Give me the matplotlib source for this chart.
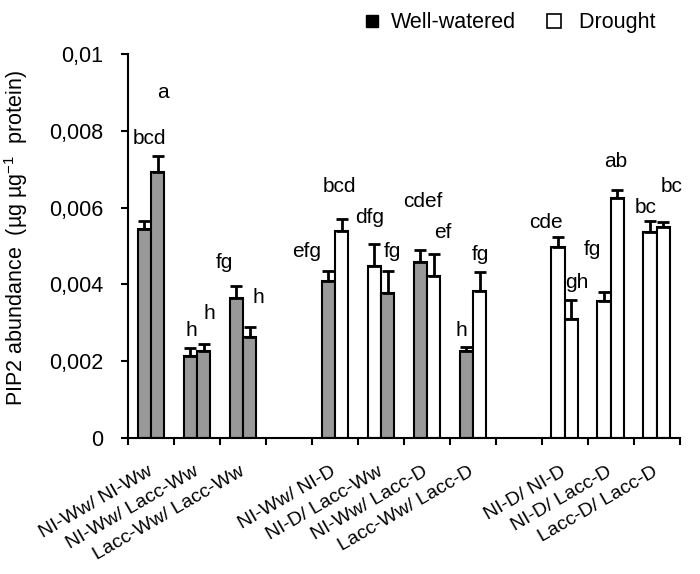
import matplotlib
matplotlib.use("Agg")
import matplotlib.pyplot as plt
import numpy as np
from matplotlib.lines import Line2D
from matplotlib.ticker import FuncFormatter

plt.rcParams['font.family'] = ['Liberation Sans', 'DejaVu Sans']

# graft combinations (empty strings = gaps between groups)
categories = ['NI-Ww/ NI-Ww', 'NI-Ww/ Lacc-Ww', 'Lacc-Ww/ Lacc-Ww', '',
              'NI-Ww/ NI-D', 'NI-D/ Lacc-Ww', 'NI-Ww/ Lacc-D', 'Lacc-Ww/ Lacc-D', '',
              'NI-D/ NI-D', 'NI-D/ Lacc-D', 'Lacc-D/ Lacc-D']

# first and second bar of each combination (None = no bar)
first_vals = [0.00544, 0.00214, 0.00364, None, 0.00409, 0.00448, 0.00458, 0.00227, None, 0.00496, 0.00357, 0.00536]
first_err = [0.00021, 0.00020, 0.00032, None, 0.00026, 0.00057, 0.00032, 0.00010, None, 0.00027, 0.00023, 0.00029]
second_vals = [0.00693, 0.00227, 0.00263, None, 0.00539, 0.00377, 0.00423, 0.00384, None, 0.00310, 0.00626, 0.00550]
second_err = [0.00041, 0.00018, 0.00026, None, 0.00031, 0.00058, 0.00056, 0.00049, None, 0.00050, 0.00020, 0.00013]

# treatment of each bar: 'W' well-watered, 'D' drought
first_trt = ['W', 'W', 'W', None, 'W', 'D', 'W', 'W', None, 'D', 'D', 'D']
second_trt = ['W', 'W', 'W', None, 'D', 'W', 'D', 'D', None, 'D', 'D', 'D']

# significance letters
first_letters = ['bcd', 'h', 'fg', None, 'efg', 'dfg', 'cdef', 'h', None, 'cde', 'fg', 'bc']
second_letters = ['a', 'h', 'h', None, 'bcd', 'fg', 'ef', 'fg', None, 'gh', 'ab', 'bc']

# letter placement (x offset from bar centre in slot units, y in data units)
first_lx = [0.10, 0.03, -0.25, None, -0.47, -0.10, 0.05, -0.10, None, -0.27, -0.25, -0.10]
first_ly = [0.00779, 0.00281, 0.00456, None, 0.00485, 0.00573, 0.00615, 0.00281, None, 0.00560, 0.00492, 0.00599]
second_lx = [0.12, 0.12, 0.18, None, -0.05, 0.10, 0.21, 0.01, None, 0.12, -0.03, 0.18]
second_ly = [0.00900, 0.00325, 0.00365, None, 0.00654, 0.00485, 0.00534, 0.00477, None, 0.00406, 0.00719, 0.00654]

colors = {'W': '#999999', 'D': 'white'}

fig = plt.figure(figsize=(7.0, 5.74), dpi=100)
ax = fig.add_axes([0.183, 0.237, 0.788, 0.669])

x = np.arange(len(categories))
w = 0.29
fs = 15

for i in range(len(categories)):
    if first_vals[i] is None:
        continue
    for off, v, e, t, lab, lx, ly in [(-w / 2, first_vals[i], first_err[i], first_trt[i], first_letters[i], first_lx[i], first_ly[i]),
                                      (w / 2, second_vals[i], second_err[i], second_trt[i], second_letters[i], second_lx[i], second_ly[i])]:
        ax.bar(x[i] + off, v, width=w, color=colors[t], edgecolor='black', linewidth=1.5, zorder=2)
        ax.errorbar(x[i] + off, v, yerr=[[0], [e]], fmt='none', ecolor='black',
                    elinewidth=2, capsize=4.5, capthick=2, zorder=3)
        ax.text(x[i] + off + lx, ly, lab, ha='center', va='center', fontsize=fs)

ax.set_xlim(-0.5, len(categories) - 0.5)
ax.set_ylim(0, 0.01)
ax.set_yticks(np.arange(0, 0.0101, 0.002))
ax.yaxis.set_major_formatter(FuncFormatter(lambda v, p: '0' if v == 0 else ('%g' % round(v, 4)).replace('.', ',')))
ax.tick_params(axis='y', labelsize=15.5, width=1.5, length=5, pad=13)

ax.set_xticks(np.arange(-0.5, len(categories), 1.0))
ax.set_xticklabels([])
ax.tick_params(axis='x', width=1.5, length=5, direction='out')
for i, c in enumerate(categories):
    if c:
        ax.text(x[i], -0.00085, c, rotation=30, rotation_mode='anchor', ha='right', va='center',
                fontsize=14)

for s in ['top', 'right']:
    ax.spines[s].set_visible(False)
for s in ['left', 'bottom']:
    ax.spines[s].set_linewidth(1.5)

ax.set_ylabel('PIP2 abundance  (µg µg$^{\\mathregular{-1}}$  protein)', fontsize=15.5)
ax.yaxis.set_label_coords(-0.178, 0.522)

handles = [Line2D([], [], marker='s', linestyle='none', markersize=9, markerfacecolor='black',
                  markeredgecolor='black', label='Well-watered'),
           Line2D([], [], marker='s', linestyle='none', markersize=10, markerfacecolor='white',
                  markeredgecolor='black', markeredgewidth=1.2, label=' Drought')]
fig.legend(handles=handles, loc='center left', bbox_to_anchor=(0.488, 0.96), ncol=2, frameon=False,
           fontsize=15.5, handletextpad=0.4, columnspacing=1.25, handlelength=1.0)

fig.savefig('out.png', dpi=100)
